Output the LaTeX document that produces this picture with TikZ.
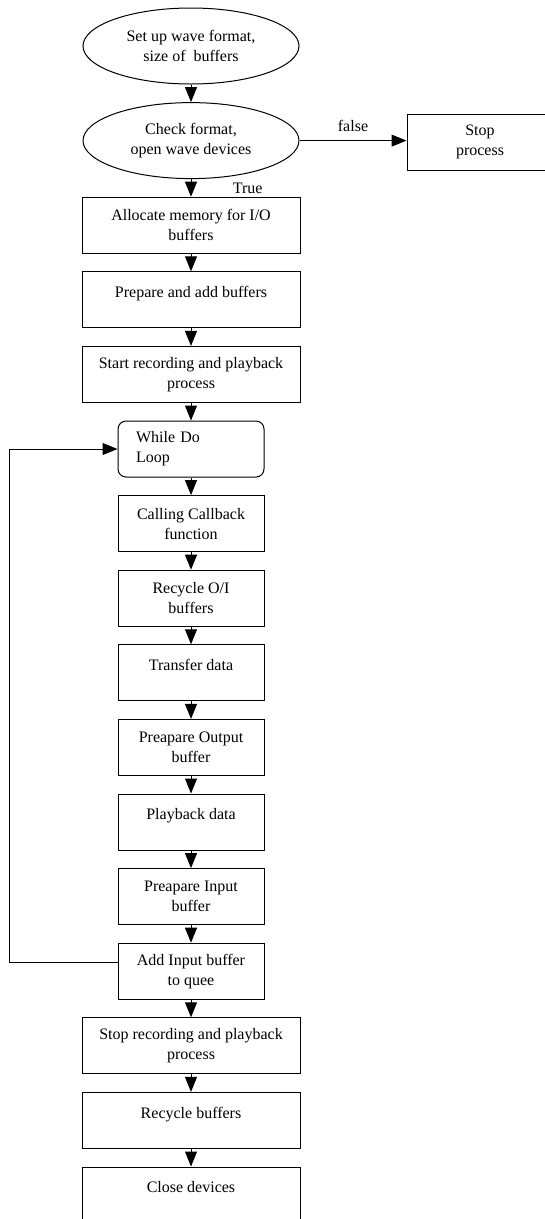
\documentclass[tikz,border=0pt]{standalone}
\usepackage{fontspec}
\setmainfont{Liberation Serif}
\usetikzlibrary{positioning,shapes.geometric,arrows.meta}

\tikzset{
  ellnode/.style={draw, ellipse, line width=1pt, minimum width=216pt, minimum height=76pt, inner sep=0pt, align=center},
  widebox/.style={draw, rectangle, line width=1pt, minimum width=218pt, minimum height=56pt, align=center},
  narrowbox/.style={widebox, minimum width=146pt},
  loopbox/.style={narrowbox, rounded corners=8pt, align=left, text width=110pt, inner xsep=18pt},
  oneline/.style={text depth=16pt},
  flow/.style={line width=1pt, -{Triangle[length=15pt,width=12pt]}}
}

\begin{document}
\begin{tikzpicture}[x=1pt, y=-1pt, node distance=17.6pt, font=\fontsize{16pt}{20pt}\selectfont]
\useasboundingbox (0,0) rectangle (545,1219);
\clip (0,0) rectangle (545,1219);
% main column
\node[ellnode] (setup) at (191,46) {Set up wave format,\\size of~ buffers};
\node[ellnode, below=of setup] (check) {Check format,\\open wave devices};
\node[widebox, below=of check] (alloc) {Allocate memory for I/O\\buffers};
\node[widebox, oneline, below=of alloc] (prep) {Prepare and add buffers};
\node[widebox, below=of prep] (start) {Start recording and playback\\process};
\node[loopbox, below=of start] (while) {While Do\\Loop};
\node[narrowbox, below=of while] (call) {Calling Callback\\function};
\node[narrowbox, below=of call] (recio) {Recycle O/I\\buffers};
\node[narrowbox, oneline, below=of recio] (trans) {Transfer data};
\node[narrowbox, below=of trans] (outbuf) {Preapare Output\\buffer};
\node[narrowbox, oneline, below=of outbuf] (play) {Playback data};
\node[narrowbox, below=of play] (inbuf) {Preapare Input\\buffer};
\node[narrowbox, below=of inbuf] (addin) {Add Input buffer\\to quee};
\node[widebox, below=of addin] (stoprec) {Stop recording and playback\\process};
\node[widebox, oneline, below=of stoprec] (recbuf) {Recycle buffers};
\node[widebox, oneline, below=of recbuf] (close) {Close devices};
% side branch
\node[narrowbox] (stop) at (480,142) {Stop\\process};
\coordinate (back) at (9,0);

% connectors
\foreach \a/\b in {setup/check, alloc/prep, prep/start, start/while, while/call, call/recio, recio/trans, trans/outbuf, outbuf/play, play/inbuf, inbuf/addin, addin/stoprec, stoprec/recbuf, recbuf/close}
  \draw[flow] (\a) -- (\b);
\draw[flow] (check) -- node[right=38pt]{True} (alloc);
\draw[flow] (check.east) -- node[above=5pt]{false} (check.east -| stop.west);
\draw[flow] ([yshift=9pt]addin.west) -| (back |- while.west) -- (while.west);
\end{tikzpicture}
\end{document}
